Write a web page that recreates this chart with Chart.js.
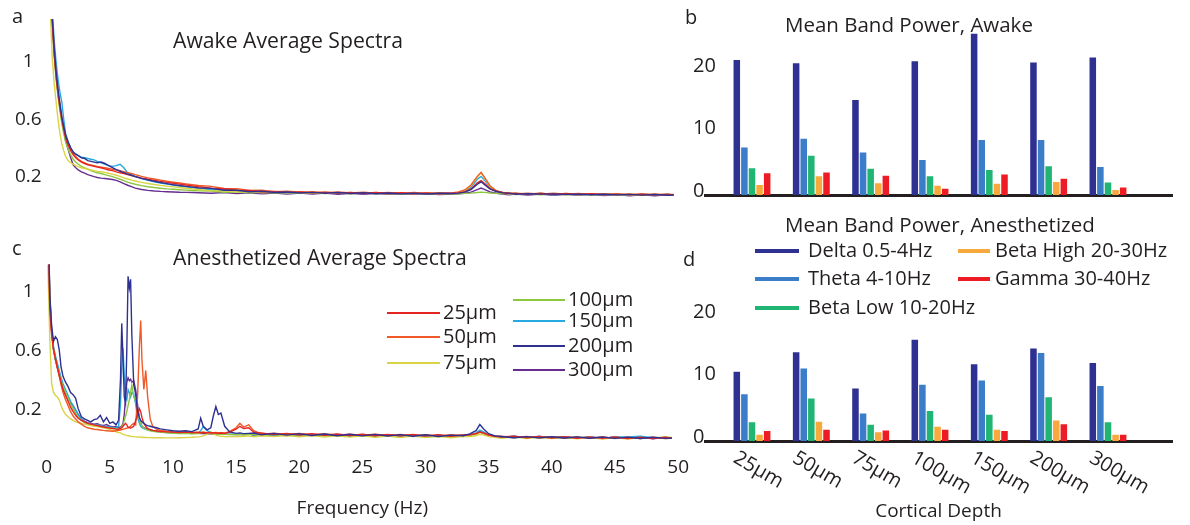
<!DOCTYPE html>
<html>
<head>
<meta charset="utf-8">
<script src="https://cdn.jsdelivr.net/npm/chart.js@4.4.1/dist/chart.umd.min.js"></script>
<style>
  body { margin: 0; background: #fff; }
  #fig { position: relative; width: 1190px; height: 525px; overflow: hidden; font-family: 'Open Sans', sans-serif; color: #231f20; }
  #fig canvas { position: absolute; }
  .lbl { position: absolute; font-size: 20px; line-height: 20px; white-space: nowrap; }
  .big { font-size: 21.2px; }
  .mid { font-size: 20.5px; }
</style>
</head>
<body>
<div id="fig">
  <canvas id="awake" width="700" height="225" style="left:0;top:0"></canvas>
  <canvas id="anest" width="700" height="295" style="left:0;top:230px"></canvas>
  <canvas id="bandAwake" width="510" height="215" style="left:680px;top:0"></canvas>
  <canvas id="bandAnest" width="510" height="310" style="left:680px;top:215px"></canvas>
  <div class="lbl" style="left:12px;top:6px">a</div>
  <div class="lbl" style="left:12px;top:238px">c</div>
  <div class="lbl" style="left:685px;top:7px">b</div>
  <div class="lbl" style="left:683px;top:249px">d</div>
  <div class="lbl big" style="left:173px;top:30px">Awake Average Spectra</div>
  <div class="lbl big" style="left:173px;top:247px">Anesthetized Average Spectra</div>
  <div class="lbl mid" style="left:785px;top:14px">Mean Band Power, Awake</div>
  <div class="lbl mid" style="left:785px;top:214px">Mean Band Power, Anesthetized</div>
</div>
<script>
// Recording depths and their trace colours
var depths = ['25μm', '50μm', '75μm', '100μm', '150μm', '200μm', '300μm'];
var depthColors = ['#e52521', '#f05a28', '#d8d444', '#8dc63f', '#27aae1', '#2e3192', '#662d91'];

// Frequency bands and bar colours
var bands = ['Delta 0.5-4Hz', 'Theta 4-10Hz', 'Beta Low 10-20Hz', 'Beta High 20-30Hz', 'Gamma 30-40Hz'];
var bandColors = ['#2e3192', '#3b7dc8', '#21b573', '#f8a93d', '#ed1c24'];

// Tick labels
var spectraTicks = [0.2, 0.6, 1];
var powerTicks = [0, 10, 20];

// Awake spectra (Hz)
var freqAwake = [0.3, 0.45, 0.6, 0.75, 0.9, 1.05, 1.2, 1.35, 1.5,
  1.7, 1.9, 2.1, 2.3, 2.5, 2.75, 3, 3.25, 3.5, 3.75,
  4, 4.3, 4.6, 4.9, 5.2, 5.5, 5.8, 6.1, 6.4, 6.7,
  7, 7.5, 8, 8.5, 9, 9.5, 10, 10.5, 11, 11.5,
  12, 13, 14, 15, 16, 17, 18, 19, 20, 21,
  22, 23, 24, 25, 26, 27, 28, 29, 30, 31,
  32, 32.5, 33, 33.5, 34, 34.3, 34.6, 35, 35.5, 36,
  36.5, 37, 38, 39, 40, 41, 42, 43, 44, 45,
  46, 47, 48, 49, 49.5];

var awake25 = [1.58, 1.28, 1.06, 0.9, 0.78, 0.68, 0.6, 0.53, 0.47,
  0.42, 0.38, 0.35, 0.33, 0.315, 0.3, 0.29, 0.28, 0.275, 0.27,
  0.265, 0.26, 0.252, 0.245, 0.24, 0.232, 0.225, 0.22, 0.212, 0.205,
  0.198, 0.188, 0.18, 0.172, 0.165, 0.158, 0.152, 0.146, 0.14, 0.134,
  0.128, 0.118, 0.114, 0.103, 0.102, 0.093, 0.095, 0.088, 0.091, 0.085,
  0.09, 0.083, 0.088, 0.081, 0.087, 0.08, 0.086, 0.079, 0.085, 0.078,
  0.082, 0.085, 0.092, 0.112, 0.155, 0.17, 0.148, 0.115, 0.096, 0.087,
  0.08, 0.083, 0.076, 0.082, 0.074, 0.081, 0.073, 0.079, 0.072, 0.078,
  0.071, 0.077, 0.07, 0.076, 0.072];
var awake50 = [1.6, 1.3, 1.08, 0.92, 0.8, 0.7, 0.61, 0.54, 0.48,
  0.43, 0.39, 0.36, 0.34, 0.32, 0.305, 0.295, 0.285, 0.28, 0.275,
  0.27, 0.265, 0.26, 0.255, 0.25, 0.245, 0.24, 0.232, 0.226, 0.22,
  0.212, 0.2, 0.19, 0.182, 0.174, 0.166, 0.16, 0.154, 0.148, 0.142,
  0.136, 0.13, 0.116, 0.114, 0.102, 0.103, 0.093, 0.097, 0.089, 0.093,
  0.086, 0.091, 0.084, 0.089, 0.083, 0.088, 0.081, 0.087, 0.08, 0.086,
  0.085, 0.092, 0.105, 0.14, 0.2, 0.228, 0.19, 0.135, 0.1, 0.088,
  0.085, 0.077, 0.083, 0.076, 0.082, 0.075, 0.081, 0.073, 0.079, 0.072,
  0.078, 0.071, 0.077, 0.07, 0.073];
var awake75 = [1.34, 1.02, 0.85, 0.72, 0.6, 0.5, 0.43, 0.38, 0.34,
  0.31, 0.295, 0.285, 0.275, 0.268, 0.26, 0.255, 0.25, 0.245, 0.24,
  0.235, 0.232, 0.228, 0.222, 0.216, 0.208, 0.2, 0.19, 0.182, 0.174,
  0.168, 0.158, 0.15, 0.143, 0.137, 0.132, 0.127, 0.122, 0.117, 0.112,
  0.108, 0.099, 0.1, 0.091, 0.094, 0.086, 0.09, 0.085, 0.089, 0.082,
  0.089, 0.081, 0.088, 0.08, 0.087, 0.079, 0.086, 0.078, 0.085, 0.077,
  0.082, 0.088, 0.1, 0.135, 0.195, 0.225, 0.185, 0.13, 0.098, 0.086,
  0.079, 0.082, 0.075, 0.082, 0.073, 0.08, 0.072, 0.079, 0.071, 0.078,
  0.07, 0.077, 0.069, 0.076, 0.071];
var awake100 = [1.56, 1.25, 1.04, 0.88, 0.76, 0.66, 0.57, 0.5, 0.44,
  0.39, 0.35, 0.32, 0.3, 0.285, 0.27, 0.26, 0.25, 0.24, 0.232,
  0.225, 0.22, 0.212, 0.205, 0.198, 0.19, 0.18, 0.17, 0.16, 0.152,
  0.145, 0.135, 0.128, 0.122, 0.117, 0.113, 0.11, 0.107, 0.104, 0.101,
  0.099, 0.098, 0.089, 0.093, 0.085, 0.09, 0.083, 0.088, 0.081, 0.086,
  0.08, 0.086, 0.079, 0.085, 0.078, 0.084, 0.077, 0.083, 0.076, 0.082,
  0.078, 0.079, 0.081, 0.083, 0.087, 0.09, 0.088, 0.084, 0.081, 0.079,
  0.081, 0.073, 0.079, 0.072, 0.078, 0.071, 0.077, 0.07, 0.076, 0.069,
  0.075, 0.068, 0.074, 0.067, 0.07];
var awake150 = [1.66, 1.36, 1.15, 1.0, 0.88, 0.79, 0.72, 0.6, 0.5,
  0.44, 0.4, 0.37, 0.355, 0.345, 0.335, 0.33, 0.325, 0.32, 0.315,
  0.305, 0.295, 0.285, 0.275, 0.27, 0.275, 0.285, 0.26, 0.225, 0.21,
  0.2, 0.185, 0.172, 0.162, 0.154, 0.146, 0.139, 0.133, 0.127, 0.122,
  0.117, 0.107, 0.107, 0.095, 0.098, 0.088, 0.092, 0.085, 0.089, 0.082,
  0.088, 0.081, 0.086, 0.081, 0.085, 0.08, 0.084, 0.079, 0.083, 0.078,
  0.081, 0.086, 0.096, 0.125, 0.18, 0.2, 0.17, 0.125, 0.097, 0.086,
  0.078, 0.081, 0.074, 0.08, 0.072, 0.079, 0.071, 0.078, 0.07, 0.077,
  0.069, 0.076, 0.068, 0.075, 0.07];
var awake200 = [1.62, 1.31, 1.1, 0.93, 0.81, 0.71, 0.62, 0.55, 0.49,
  0.44, 0.4, 0.37, 0.355, 0.345, 0.33, 0.325, 0.31, 0.305, 0.3,
  0.295, 0.3, 0.29, 0.275, 0.262, 0.248, 0.236, 0.226, 0.216, 0.208,
  0.198, 0.186, 0.176, 0.166, 0.157, 0.149, 0.142, 0.136, 0.13, 0.125,
  0.12, 0.116, 0.103, 0.103, 0.093, 0.096, 0.087, 0.091, 0.084, 0.088,
  0.082, 0.087, 0.08, 0.086, 0.079, 0.084, 0.078, 0.083, 0.077, 0.082,
  0.08, 0.083, 0.09, 0.108, 0.145, 0.162, 0.14, 0.112, 0.094, 0.085,
  0.083, 0.075, 0.079, 0.076, 0.077, 0.074, 0.076, 0.072, 0.075, 0.071,
  0.074, 0.069, 0.073, 0.068, 0.07];
var awake300 = [1.58, 1.27, 1.06, 0.9, 0.78, 0.68, 0.59, 0.52, 0.45,
  0.39, 0.33, 0.28, 0.26, 0.245, 0.232, 0.222, 0.212, 0.205, 0.198,
  0.192, 0.188, 0.185, 0.182, 0.178, 0.172, 0.162, 0.15, 0.138, 0.128,
  0.118, 0.108, 0.102, 0.098, 0.095, 0.093, 0.091, 0.089, 0.088, 0.087,
  0.086, 0.082, 0.087, 0.08, 0.085, 0.079, 0.084, 0.077, 0.084, 0.076,
  0.083, 0.075, 0.082, 0.074, 0.081, 0.074, 0.079, 0.074, 0.078, 0.073,
  0.076, 0.078, 0.082, 0.09, 0.108, 0.118, 0.108, 0.092, 0.082, 0.077,
  0.071, 0.076, 0.069, 0.076, 0.068, 0.075, 0.067, 0.074, 0.066, 0.073,
  0.065, 0.072, 0.065, 0.072, 0.067];

// Anesthetized spectra (Hz)
var freqAnest = [0.1, 0.25, 0.4, 0.55, 0.7, 0.85, 1, 1.15, 1.3, 1.5,
  1.7, 1.9, 2.1, 2.3, 2.5, 2.75, 3, 3.25, 3.5, 3.75,
  4, 4.25, 4.5, 4.75, 5, 5.25, 5.5, 5.7, 5.85, 5.95,
  6.05, 6.15, 6.25, 6.35, 6.45, 6.55, 6.65, 6.75, 6.9, 7.05,
  7.2, 7.35, 7.45, 7.55, 7.7, 7.85, 8, 8.2, 8.4, 8.7,
  9, 9.5, 10, 10.5, 11, 11.5, 12, 12.2, 12.4, 12.7,
  13, 13.2, 13.4, 13.6, 13.8, 14.1, 14.5, 15, 15.3, 15.6,
  16, 16.4, 17, 18, 19, 20, 21, 22, 23, 24,
  25, 26, 27, 28, 29, 30, 31, 32, 33, 33.5,
  34, 34.3, 34.6, 35, 35.5, 36, 37, 38, 39, 40,
  41, 42, 43, 44, 45, 46, 47, 48, 49, 49.5];

var anest25 = [1.6, 0.9, 0.72, 0.62, 0.56, 0.5, 0.45, 0.4, 0.35, 0.31,
  0.27, 0.23, 0.2, 0.175, 0.155, 0.14, 0.13, 0.12, 0.115, 0.11,
  0.105, 0.1, 0.095, 0.092, 0.088, 0.085, 0.082, 0.08, 0.085, 0.09,
  0.1, 0.11, 0.12, 0.11, 0.095, 0.09, 0.088, 0.092, 0.1, 0.14,
  0.18, 0.22, 0.2, 0.16, 0.12, 0.1, 0.085, 0.078, 0.072, 0.068,
  0.065, 0.062, 0.06, 0.058, 0.06, 0.057, 0.058, 0.056, 0.058, 0.055,
  0.056, 0.054, 0.055, 0.053, 0.054, 0.052, 0.06, 0.08, 0.1, 0.085,
  0.09, 0.06, 0.054, 0.043, 0.052, 0.041, 0.05, 0.039, 0.048, 0.037,
  0.046, 0.036, 0.045, 0.035, 0.044, 0.033, 0.042, 0.032, 0.041, 0.042,
  0.05, 0.062, 0.055, 0.04, 0.032, 0.027, 0.033, 0.022, 0.031, 0.02,
  0.029, 0.019, 0.028, 0.018, 0.027, 0.017, 0.026, 0.016, 0.025, 0.019];
var anest50 = [1.62, 0.95, 0.74, 0.63, 0.56, 0.5, 0.44, 0.38, 0.33, 0.28,
  0.24, 0.2, 0.17, 0.15, 0.13, 0.115, 0.1, 0.09, 0.085, 0.08,
  0.078, 0.075, 0.072, 0.07, 0.068, 0.066, 0.07, 0.072, 0.075, 0.078,
  0.08, 0.082, 0.085, 0.088, 0.09, 0.095, 0.1, 0.11, 0.12, 0.11,
  0.3, 0.65, 0.82, 0.55, 0.35, 0.48, 0.3, 0.15, 0.1, 0.08,
  0.072, 0.066, 0.062, 0.06, 0.062, 0.058, 0.06, 0.058, 0.06, 0.057,
  0.058, 0.056, 0.058, 0.055, 0.056, 0.054, 0.065, 0.09, 0.12, 0.095,
  0.11, 0.07, 0.046, 0.053, 0.044, 0.051, 0.042, 0.049, 0.04, 0.047,
  0.039, 0.046, 0.037, 0.045, 0.036, 0.043, 0.035, 0.042, 0.037, 0.043,
  0.05, 0.06, 0.052, 0.04, 0.033, 0.033, 0.024, 0.031, 0.022, 0.029,
  0.02, 0.028, 0.019, 0.027, 0.018, 0.026, 0.017, 0.025, 0.017, 0.02];
var anest75 = [1.2, 0.7, 0.39, 0.33, 0.31, 0.3, 0.28, 0.24, 0.21, 0.18,
  0.165, 0.15, 0.14, 0.13, 0.125, 0.12, 0.115, 0.11, 0.105, 0.1,
  0.098, 0.095, 0.09, 0.085, 0.08, 0.07, 0.063, 0.058, 0.055, 0.05,
  0.045, 0.042, 0.04, 0.038, 0.036, 0.034, 0.032, 0.03, 0.03, 0.028,
  0.027, 0.026, 0.025, 0.025, 0.024, 0.024, 0.023, 0.023, 0.022, 0.022,
  0.022, 0.021, 0.021, 0.022, 0.023, 0.025, 0.028, 0.03, 0.035, 0.045,
  0.06, 0.05, 0.04, 0.035, 0.032, 0.03, 0.03, 0.031, 0.03, 0.032,
  0.035, 0.029, 0.036, 0.03, 0.037, 0.028, 0.037, 0.027, 0.036, 0.026,
  0.035, 0.025, 0.034, 0.024, 0.033, 0.023, 0.032, 0.022, 0.032, 0.03,
  0.036, 0.045, 0.04, 0.03, 0.025, 0.018, 0.028, 0.017, 0.027, 0.016,
  0.026, 0.015, 0.025, 0.014, 0.024, 0.013, 0.023, 0.02, 0.028, 0.024];
var anest100 = [1.58, 0.96, 0.74, 0.62, 0.55, 0.5, 0.46, 0.41, 0.37, 0.33,
  0.29, 0.25, 0.22, 0.19, 0.16, 0.14, 0.125, 0.115, 0.11, 0.105,
  0.1, 0.098, 0.094, 0.09, 0.088, 0.085, 0.086, 0.084, 0.088, 0.095,
  0.11, 0.14, 0.17, 0.2, 0.24, 0.28, 0.33, 0.38, 0.3, 0.27,
  0.22, 0.15, 0.12, 0.1, 0.088, 0.08, 0.075, 0.07, 0.066, 0.062,
  0.06, 0.056, 0.053, 0.05, 0.052, 0.049, 0.05, 0.052, 0.06, 0.055,
  0.05, 0.048, 0.049, 0.046, 0.047, 0.045, 0.044, 0.043, 0.045, 0.042,
  0.043, 0.047, 0.037, 0.046, 0.036, 0.044, 0.035, 0.043, 0.034, 0.042,
  0.033, 0.041, 0.032, 0.04, 0.03, 0.039, 0.029, 0.037, 0.031, 0.038,
  0.045, 0.058, 0.05, 0.038, 0.03, 0.029, 0.021, 0.029, 0.02, 0.027,
  0.019, 0.026, 0.018, 0.025, 0.017, 0.024, 0.016, 0.023, 0.016, 0.019];
var anest150 = [1.62, 1.0, 0.76, 0.64, 0.58, 0.53, 0.48, 0.43, 0.39, 0.35,
  0.31, 0.27, 0.24, 0.21, 0.18, 0.15, 0.13, 0.12, 0.115, 0.11,
  0.11, 0.105, 0.1, 0.098, 0.095, 0.09, 0.092, 0.1, 0.25, 0.5,
  0.63, 0.45, 0.3, 0.28, 0.35, 0.33, 0.3, 0.33, 0.32, 0.25,
  0.16, 0.12, 0.1, 0.09, 0.085, 0.08, 0.076, 0.072, 0.068, 0.065,
  0.062, 0.058, 0.055, 0.052, 0.054, 0.05, 0.055, 0.07, 0.097, 0.07,
  0.058, 0.052, 0.05, 0.048, 0.05, 0.047, 0.046, 0.045, 0.047, 0.044,
  0.049, 0.04, 0.048, 0.038, 0.047, 0.037, 0.046, 0.036, 0.045, 0.035,
  0.044, 0.034, 0.043, 0.033, 0.042, 0.031, 0.04, 0.03, 0.041, 0.042,
  0.055, 0.075, 0.062, 0.042, 0.033, 0.024, 0.033, 0.022, 0.032, 0.02,
  0.03, 0.019, 0.029, 0.018, 0.028, 0.027, 0.032, 0.022, 0.024, 0.019];
var anest200 = [1.65, 1.0, 0.78, 0.68, 0.71, 0.69, 0.62, 0.5, 0.44, 0.4,
  0.37, 0.33, 0.315, 0.29, 0.22, 0.165, 0.15, 0.14, 0.13, 0.145,
  0.15, 0.175, 0.13, 0.16, 0.12, 0.13, 0.11, 0.14, 0.42, 0.8,
  0.56, 0.3, 0.26, 0.62, 1.12, 1.04, 1.1, 0.72, 0.38, 0.32,
  0.2, 0.16, 0.14, 0.13, 0.12, 0.11, 0.105, 0.1, 0.095, 0.09,
  0.082, 0.076, 0.07, 0.066, 0.07, 0.064, 0.082, 0.155, 0.1, 0.076,
  0.09, 0.17, 0.235, 0.18, 0.19, 0.1, 0.062, 0.052, 0.055, 0.05,
  0.052, 0.054, 0.042, 0.052, 0.04, 0.05, 0.037, 0.048, 0.036, 0.046,
  0.035, 0.045, 0.034, 0.043, 0.032, 0.042, 0.031, 0.04, 0.036, 0.048,
  0.07, 0.112, 0.082, 0.05, 0.035, 0.031, 0.022, 0.03, 0.021, 0.029,
  0.02, 0.028, 0.019, 0.027, 0.018, 0.026, 0.017, 0.025, 0.018, 0.02];
var anest300 = [1.6, 0.98, 0.75, 0.62, 0.55, 0.5, 0.45, 0.4, 0.36, 0.32,
  0.29, 0.26, 0.24, 0.21, 0.18, 0.15, 0.135, 0.125, 0.12, 0.115,
  0.118, 0.11, 0.105, 0.112, 0.1, 0.095, 0.098, 0.09, 0.095, 0.1,
  0.12, 0.18, 0.3, 0.4, 0.43, 0.41, 0.42, 0.4, 0.41, 0.35,
  0.25, 0.15, 0.12, 0.1, 0.09, 0.085, 0.08, 0.076, 0.072, 0.068,
  0.065, 0.06, 0.058, 0.055, 0.056, 0.052, 0.054, 0.05, 0.052, 0.049,
  0.05, 0.048, 0.05, 0.047, 0.048, 0.046, 0.045, 0.044, 0.046, 0.043,
  0.048, 0.038, 0.047, 0.037, 0.046, 0.036, 0.045, 0.035, 0.044, 0.034,
  0.043, 0.033, 0.042, 0.032, 0.041, 0.03, 0.039, 0.029, 0.04, 0.04,
  0.05, 0.065, 0.055, 0.04, 0.032, 0.023, 0.032, 0.021, 0.031, 0.019,
  0.029, 0.018, 0.028, 0.017, 0.027, 0.016, 0.026, 0.015, 0.025, 0.019];

// Mean band power per depth (25μm ... 300μm)
var deltaAwake = [21.6, 21.1, 15.2, 21.4, 25.8, 21.2, 22.0];
var thetaAwake = [7.6, 9.0, 6.8, 5.6, 8.8, 8.8, 4.5];
var betaLowAwake = [4.3, 6.3, 4.2, 3.0, 4.0, 4.6, 2.0];
var betaHighAwake = [1.6, 3.0, 1.9, 1.5, 1.8, 2.1, 0.8];
var gammaAwake = [3.5, 3.6, 3.1, 1.0, 3.3, 2.6, 1.2];

var deltaAnest = [11.1, 14.2, 8.4, 16.2, 12.3, 14.8, 12.5];
var thetaAnest = [7.5, 11.6, 4.4, 9.0, 9.7, 14.1, 8.8];
var betaLowAnest = [3.0, 6.8, 2.6, 4.8, 4.2, 7.0, 3.0];
var betaHighAnest = [1.0, 3.1, 1.4, 2.3, 1.8, 3.3, 1.0];
var gammaAnest = [1.6, 1.8, 1.7, 1.8, 1.6, 2.7, 1.0];

var ink = '#231f20';
Chart.defaults.font.family = "'Open Sans', sans-serif";
Chart.defaults.font.size = 19;
Chart.defaults.color = ink;

function spectraDatasets(freq, series) {
  return series.map(function(values, i) {
    return {
      label: depths[i],
      data: values.map(function(v, j) { return { x: freq[j], y: v }; }),
      borderColor: depthColors[i],
      borderWidth: 1.4,
      pointRadius: 0,
      tension: 0,
      // dark blue trace sits on top
      order: i === 5 ? 0 : i + 1
    };
  });
}

function bandDatasets(series) {
  return series.map(function(values, i) {
    return {
      label: bands[i],
      data: values.map(function(v, j) { return { x: j, y: v }; }),
      backgroundColor: bandColors[i],
      borderWidth: 0,
      categoryPercentage: 0.64,
      barPercentage: 0.86
    };
  });
}

function fixedTicks(list) {
  return function(axis) {
    axis.ticks = list.map(function(v) { return { value: v }; });
  };
}

// Two-column legend for the depth traces
var depthLegend = {
  id: 'depthLegend',
  afterDraw: function(chart) {
    var ctx = chart.ctx;
    var slots = [[387, 440, 83], [387, 440, 107], [387, 440, 133],
                 [513, 565, 70], [513, 565, 91], [513, 565, 116], [513, 565, 140]];
    ctx.save();
    ctx.font = "20px 'Open Sans'";
    ctx.fillStyle = ink;
    ctx.textBaseline = 'middle';
    chart.data.datasets.forEach(function(ds, i) {
      var s = slots[i];
      ctx.strokeStyle = ds.borderColor;
      ctx.lineWidth = 2.2;
      ctx.beginPath();
      ctx.moveTo(s[0], s[2]);
      ctx.lineTo(s[1], s[2]);
      ctx.stroke();
      ctx.fillText(ds.label, s[1] + 3, s[2]);
    });
    ctx.restore();
  }
};

// Band legend above the anesthetized bars
var bandLegend = {
  id: 'bandLegend',
  afterDraw: function(chart) {
    var ctx = chart.ctx;
    var slots = [[75, 119, 36], [75, 119, 64], [75, 119, 93], [278, 310, 36], [278, 310, 64]];
    ctx.save();
    ctx.font = "20px 'Open Sans'";
    ctx.fillStyle = ink;
    ctx.textBaseline = 'middle';
    chart.data.datasets.forEach(function(ds, i) {
      var s = slots[i];
      ctx.strokeStyle = ds.backgroundColor;
      ctx.lineWidth = 4;
      ctx.beginPath();
      ctx.moveTo(s[0], s[2]);
      ctx.lineTo(s[1], s[2]);
      ctx.stroke();
      ctx.fillText(ds.label, s[1] + (i < 3 ? 9 : 5), s[2]);
    });
    ctx.restore();
  }
};

// Slanted depth names under the anesthetized bars
var depthTicks = {
  id: 'depthTicks',
  afterDraw: function(chart) {
    var ctx = chart.ctx;
    var xs = chart.scales.x;
    ctx.save();
    ctx.font = "20px 'Open Sans'";
    ctx.fillStyle = ink;
    ctx.textAlign = 'left';
    ctx.textBaseline = 'top';
    depths.forEach(function(d, i) {
      ctx.save();
      ctx.translate(xs.getPixelForValue(i) - 12, chart.chartArea.bottom + 7);
      ctx.rotate(30 * Math.PI / 180);
      ctx.fillText(d, 0, 0);
      ctx.restore();
    });
    ctx.restore();
  }
};

function spectraOptions(yMin, yMax, pad, showX, xHeight, labelShift) {
  return {
    responsive: false,
    animation: false,
    layout: { padding: pad },
    plugins: { legend: { display: false }, tooltip: { enabled: false } },
    scales: {
      x: {
        type: 'linear', min: 0, max: 50,
        grid: { display: false, drawTicks: false },
        border: { display: false },
        ticks: { display: showX, stepSize: 5, padding: 11, maxRotation: 0, autoSkip: false },
        title: { display: showX, text: 'Frequency (Hz)', font: { size: 19 }, padding: { top: 0, bottom: 5 } },
        afterFit: function(s) { s.height = xHeight; }
      },
      y: {
        min: yMin, max: yMax,
        grid: { display: false, drawTicks: false },
        border: { display: false },
        afterBuildTicks: fixedTicks(spectraTicks),
        ticks: { crossAlign: 'center', padding: 5, labelOffset: labelShift, callback: function(v) { return String(v); } },
        afterFit: function(s) { s.width = 46.6; }
      }
    }
  };
}

function bandOptions(yMax, pad, xHeight, xTitle) {
  return {
    responsive: false,
    animation: false,
    layout: { padding: pad },
    plugins: { legend: { display: false }, tooltip: { enabled: false } },
    scales: {
      x: {
        type: 'linear', min: -0.792, max: 7.079, offset: false,
        grid: { display: false, drawTicks: false },
        border: { display: true, color: ink, width: 3 },
        ticks: { display: false },
        title: { display: !!xTitle, text: xTitle || '', font: { size: 19 }, padding: { top: 0, bottom: 2 } },
        afterFit: function(s) { s.height = xHeight; }
      },
      y: {
        min: 0, max: yMax,
        grid: { display: false, drawTicks: false },
        border: { display: false },
        afterBuildTicks: fixedTicks(powerTicks),
        ticks: { mirror: true, padding: -12, labelOffset: -4, font: { size: 20 } },
        afterFit: function(s) { s.width = 25; }
      }
    }
  };
}

new Chart(document.getElementById('awake'), {
  type: 'line',
  data: { datasets: spectraDatasets(freqAwake, [awake25, awake50, awake75, awake100, awake150, awake200, awake300]) },
  options: spectraOptions(0, 1.3, { left: 0, right: 20, top: 19, bottom: 20 }, false, 0, 0)
});

new Chart(document.getElementById('anest'), {
  type: 'line',
  data: { datasets: spectraDatasets(freqAnest, [anest25, anest50, anest75, anest100, anest150, anest200, anest300]) },
  options: spectraOptions(-0.03, 1.2, { left: 0, right: 20, top: 34.6, bottom: 0 }, true, 79.6, -2),
  plugins: [depthLegend]
});

new Chart(document.getElementById('bandAwake'), {
  type: 'bar',
  data: { datasets: bandDatasets([deltaAwake, thetaAwake, betaLowAwake, betaHighAwake, gammaAwake]) },
  options: bandOptions(27, { left: 0, right: 18, top: 26.25, bottom: 20 }, 0, '')
});

new Chart(document.getElementById('bandAnest'), {
  type: 'bar',
  data: { datasets: bandDatasets([deltaAnest, thetaAnest, betaLowAnest, betaHighAnest, gammaAnest]) },
  options: bandOptions(30, { left: 0, right: 18, top: 38.5, bottom: 0 }, 84, 'Cortical Depth'),
  plugins: [bandLegend, depthTicks]
});
</script>
</body>
</html>
